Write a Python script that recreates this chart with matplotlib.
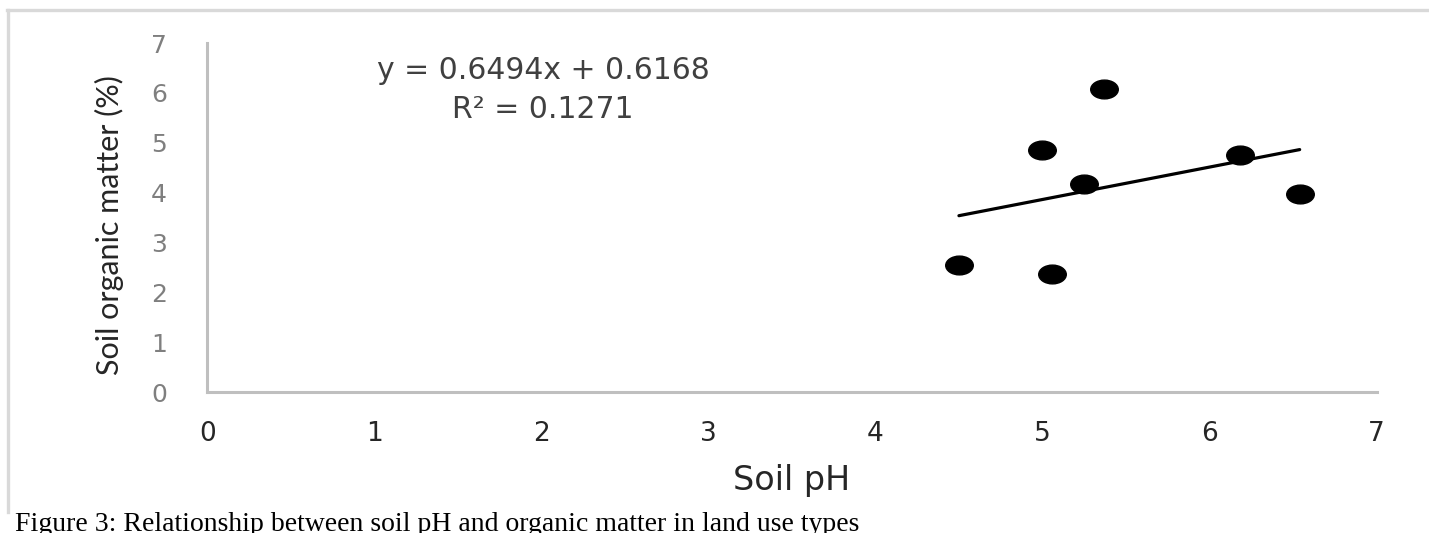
import matplotlib
matplotlib.use("Agg")
import matplotlib.pyplot as plt
from matplotlib.markers import MarkerStyle
from matplotlib.transforms import Affine2D
from matplotlib.lines import Line2D
import numpy as np

# values
soil_ph = [4.50, 5.00, 5.06, 5.25, 5.37, 6.18, 6.54]
organic_matter = [2.56, 4.85, 2.37, 4.17, 6.07, 4.76, 3.97]
slope = 0.6494
intercept = 0.6168
r_squared = 0.1271
x_ticks = [0, 1, 2, 3, 4, 5, 6, 7]
y_ticks = [0, 1, 2, 3, 4, 5, 6, 7]

plt.rcParams['font.family'] = ['DejaVu Sans']

W, H = 1429, 533
fig = plt.figure(figsize=(W / 100, H / 100), dpi=100)
fig.patch.set_facecolor("white")

# light grey frame lines (top and left) around the picture
fig.add_artist(Line2D([7 / W, 1], [1 - 9.5 / H, 1 - 9.5 / H], color="#d9d9d9", lw=2.4, transform=fig.transFigure))
fig.add_artist(Line2D([8 / W, 8 / W], [1 - 9.5 / H, 1 - 512 / H], color="#d9d9d9", lw=2.4, transform=fig.transFigure))

ax_w = 1376.5 - 207.3
ax = fig.add_axes([207.3 / W, 140.7 / H, ax_w / W, (490 - 140.7) / H])

oval = MarkerStyle("o", transform=Affine2D().scale(1.47, 1.0))
ax.plot(soil_ph, organic_matter, linestyle="none", marker=oval, markersize=13.5,
        color="black", zorder=3)

xs = np.array([min(soil_ph), max(soil_ph)])
ax.plot(xs, slope * xs + intercept, color="black", lw=2.3, solid_capstyle="round", zorder=2)

ax.text(2.01, 6.06, f"y = {slope}x + {intercept}\nR² = {r_squared}", ha="center", va="center",
        fontsize=21.5, color="#404040", linespacing=1.4)

ax.set_xlim(0, 7)
ax.set_ylim(0, 7)
ax.set_xticks(x_ticks)
ax.set_yticks(y_ticks)
ax.tick_params(axis="x", length=0, pad=21, labelsize=19, labelcolor="#262626")
ax.tick_params(axis="y", length=0, pad=29, labelsize=18, labelcolor="#7f7f7f")

for s in ["top", "right"]:
    ax.spines[s].set_visible(False)
for s in ["left", "bottom"]:
    ax.spines[s].set_color("#bfbfbf")
    ax.spines[s].set_linewidth(2.2)

ax.set_xlabel("Soil pH", fontsize=24, color="#262626", labelpad=12)
ax.set_ylabel("Soil organic matter (%)", fontsize=22, color="#262626", family=["Lato", "DejaVu Sans"])
ax.yaxis.set_label_coords(-(207.3 - 124) / ax_w, 0.479)

fig.text(15 / W, 2 / H, "Figure 3: Relationship between soil pH and organic matter in land use types",
         family=["Liberation Serif", "DejaVu Serif"], fontsize=20, color="black", ha="left", va="baseline")

fig.savefig("out.png", dpi=100)
